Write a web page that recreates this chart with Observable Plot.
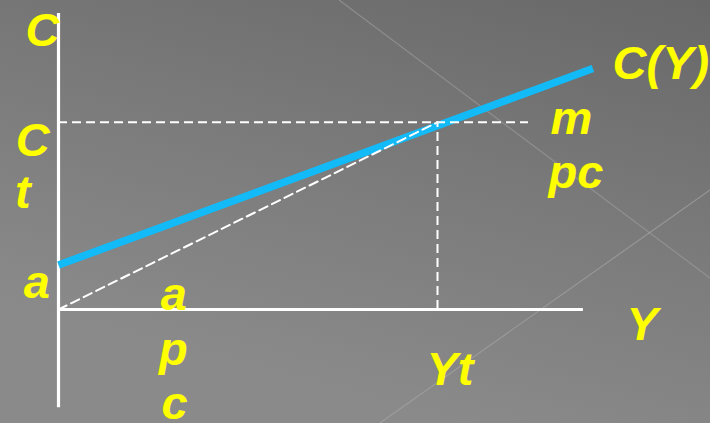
<!DOCTYPE html>
<html>
<head>
<meta charset="utf-8">
<script src="https://cdn.jsdelivr.net/npm/d3@7"></script>
<script src="https://cdn.jsdelivr.net/npm/@observablehq/plot@0.6"></script>
<style>
  html, body { margin: 0; padding: 0; }
  body {
    width: 710px; height: 423px; overflow: hidden;
    background:
      url("data:image/svg+xml;utf8,<svg xmlns='http://www.w3.org/2000/svg' width='710' height='423'><line x1='339' y1='0' x2='710' y2='278' stroke='%23a0a0a0' stroke-opacity='0.6' stroke-width='1.2'/><line x1='380' y1='423' x2='710' y2='190' stroke='%23a8a8a8' stroke-opacity='0.6' stroke-width='1.2'/></svg>") no-repeat,
      linear-gradient(195deg, #686868 0%, #7a7a7a 40%, #8a8a8a 80%, #8a8a8a 100%);
  }
  #chart svg { display: block; background: transparent; }
</style>
</head>
<body>
<div id="chart"></div>
<script>
// Keynesian consumption function C(Y) = a + mpc * Y (conceptual units)
const incomeY = [0, 14.1];          // Y values along the drawn consumption line
const consumptionC = [1.9, 10.3];   // C values along the drawn consumption line
const autonomousA = 1.9;            // intercept a
const incomeYt = 10;                // Yt
const consumptionCt = 8.0;          // Ct
const axisXEnd = 13.85;             // extent of the Y axis line
const axisYTop = 12.65;             // extent of the C axis line
const axisYBottom = -4.2;
const dashEndX = 12.4;              // end of the horizontal dashed guide

// labels (text in yellow) at data coordinates
const labelText = ["C", "C", "t", "a", "a", "p", "c", "m", "pc", "C(Y)", "Y", "Yt"];
const labelX = [-0.87, -1.13, -1.15, -0.92, 2.70, 2.65, 2.72, 12.98, 12.93, 14.62, 14.99, 9.71];
const labelY = [11.28, 6.58, 4.32, 0.51, 0.0, -2.39, -4.70, 7.52, 5.21, 9.87, -1.32, -3.21];

const KX = 37.9, KY = 23.4, OX = 58, OY = 309, W = 710, H = 423;

const labels = labelText.map((t, i) => ({t, x: labelX[i], y: labelY[i]}));

const plot = Plot.plot({
  width: W, height: H,
  margin: 0,
  x: {domain: [-OX / KX, (W - OX) / KX], axis: null},
  y: {domain: [(OY - H) / KY, OY / KY], axis: null},
  style: {background: "transparent", overflow: "visible"},
  marks: [
    Plot.ruleX([0], {y1: axisYBottom, y2: axisYTop, stroke: "white", strokeWidth: 3.2}),
    Plot.ruleY([0], {x1: 0, x2: axisXEnd, stroke: "white", strokeWidth: 3.2}),
    Plot.line(incomeY.map((y, i) => [y, consumptionC[i]]), {stroke: "#12baf7", strokeWidth: 7.5, strokeLinecap: "butt"}),
    Plot.ruleY([consumptionCt], {x1: 0, x2: dashEndX, stroke: "white", strokeWidth: 2, strokeDasharray: "9,5"}),
    Plot.ruleX([incomeYt], {y1: 0, y2: consumptionCt, stroke: "white", strokeWidth: 2, strokeDasharray: "9,5"}),
    Plot.line([[0, 0], [incomeYt, consumptionCt]], {stroke: "white", strokeWidth: 2, strokeDasharray: "9,5"}),
    Plot.text(labels, {
      x: "x", y: "y", text: "t",
      textAnchor: "start", lineAnchor: "bottom",
      fill: "#ffff00",
      fontSize: 47, fontWeight: "bold", fontStyle: "italic",
      fontFamily: "Liberation Sans, Arial, sans-serif"
    })
  ]
});
document.getElementById("chart").appendChild(plot);
</script>
</body>
</html>
